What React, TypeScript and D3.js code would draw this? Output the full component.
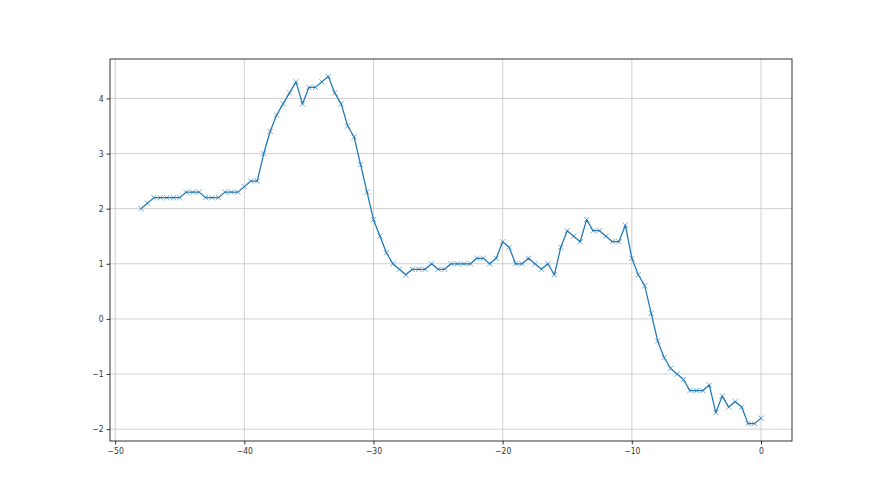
import React, { useEffect, useRef } from 'react';
import * as d3 from 'd3';

// x positions run from -48 to 0 in half steps
const xValues: number[] = d3.range(-48, 0.001, 0.5);

const yValues: number[] = [
  2.0, 2.1, 2.2, 2.2, 2.2, 2.2, 2.2, 2.3, 2.3, 2.3,
  2.2, 2.2, 2.2, 2.3, 2.3, 2.3, 2.4, 2.5, 2.5, 3.0,
  3.4, 3.7, 3.9, 4.1, 4.3, 3.9, 4.2, 4.2, 4.3, 4.4,
  4.1, 3.9, 3.5, 3.3, 2.8, 2.3, 1.8, 1.5, 1.2, 1.0,
  0.9, 0.8, 0.9, 0.9, 0.9, 1.0, 0.9, 0.9, 1.0, 1.0,
  1.0, 1.0, 1.1, 1.1, 1.0, 1.1, 1.4, 1.3, 1.0, 1.0,
  1.1, 1.0, 0.9, 1.0, 0.8, 1.3, 1.6, 1.5, 1.4, 1.8,
  1.6, 1.6, 1.5, 1.4, 1.4, 1.7, 1.1, 0.8, 0.6, 0.1,
  -0.4, -0.7, -0.9, -1.0, -1.1, -1.3, -1.3, -1.3, -1.2, -1.7,
  -1.4, -1.6, -1.5, -1.6, -1.9, -1.9, -1.8,
];

const xTicks = [-50, -40, -30, -20, -10, 0];
const yTicks = [-2, -1, 0, 1, 2, 3, 4];

const W = 880;
const H = 495;
const margin = { left: 110, right: 88, top: 59, bottom: 54 };

export default function App() {
  const ref = useRef<SVGSVGElement>(null);

  useEffect(() => {
    if (!ref.current) return;
    const svg = d3.select(ref.current);
    svg.selectAll('*').remove();

    const iw = W - margin.left - margin.right;
    const ih = H - margin.top - margin.bottom;

    // matplotlib style 5% padding on the data range
    const [x0, x1] = d3.extent(xValues) as [number, number];
    const [y0, y1] = d3.extent(yValues) as [number, number];
    const px = (x1 - x0) * 0.05;
    const py = (y1 - y0) * 0.05;

    const x = d3.scaleLinear().domain([x0 - px, x1 + px]).range([0, iw]);
    const y = d3.scaleLinear().domain([y0 - py, y1 + py]).range([ih, 0]);

    const g = svg.append('g').attr('transform', `translate(${margin.left},${margin.top})`);

    // grid
    g.append('g')
      .selectAll('line')
      .data(xTicks)
      .join('line')
      .attr('x1', d => x(d)).attr('x2', d => x(d))
      .attr('y1', 0).attr('y2', ih)
      .attr('stroke', '#c4c4c4').attr('stroke-width', 0.8);
    g.append('g')
      .selectAll('line')
      .data(yTicks)
      .join('line')
      .attr('y1', d => y(d)).attr('y2', d => y(d))
      .attr('x1', 0).attr('x2', iw)
      .attr('stroke', '#c4c4c4').attr('stroke-width', 0.8);

    const pts = xValues.map((v, i) => [v, yValues[i]] as [number, number]);

    const line = d3.line<[number, number]>().x(d => x(d[0])).y(d => y(d[1]));
    g.append('path')
      .attr('d', line(pts) ?? '')
      .attr('fill', 'none')
      .attr('stroke', '#1f77b4')
      .attr('stroke-width', 1.25)
      .attr('stroke-linejoin', 'round');

    // x markers
    const m = 2.6;
    g.append('g')
      .selectAll('path')
      .data(pts)
      .join('path')
      .attr('d', d => {
        const cx = x(d[0]);
        const cy = y(d[1]);
        return `M${cx - m},${cy - m}L${cx + m},${cy + m}M${cx - m},${cy + m}L${cx + m},${cy - m}`;
      })
      .attr('stroke', '#1f77b4')
      .attr('stroke-opacity', 0.7)
      .attr('stroke-width', 0.9);

    // axes
    const fontStyle = (sel: d3.Selection<any, any, any, any>) => {
      sel.selectAll('text')
        .attr('font-family', 'DejaVu Sans, sans-serif')
        .attr('font-size', 8.5)
        .attr('font-stretch', 'condensed')
        .attr('fill', '#333');
      sel.selectAll('line').attr('stroke', '#000').attr('stroke-width', 0.8);
      sel.select('.domain').remove();
    };

    const fmt = (d: d3.NumberValue) => {
      const n = Number(d);
      return n < 0 ? `\u2212${Math.abs(n)}` : `${n}`;
    };

    g.append('g')
      .attr('transform', `translate(0,${ih})`)
      .call(d3.axisBottom(x).tickValues(xTicks).tickSize(3.5).tickPadding(3).tickFormat(fmt))
      .call(fontStyle);

    g.append('g')
      .call(d3.axisLeft(y).tickValues(yTicks).tickSize(3.5).tickPadding(3).tickFormat(fmt))
      .call(fontStyle);

    // frame
    g.append('rect')
      .attr('x', 0).attr('y', 0).attr('width', iw).attr('height', ih)
      .attr('fill', 'none').attr('stroke', '#000').attr('stroke-width', 0.8);
  }, []);

  return (
    <svg
      ref={ref}
      width={W}
      height={H}
      style={{ display: 'block', position: 'absolute', left: 0, top: 0, background: '#fff' }}
    />
  );
}
